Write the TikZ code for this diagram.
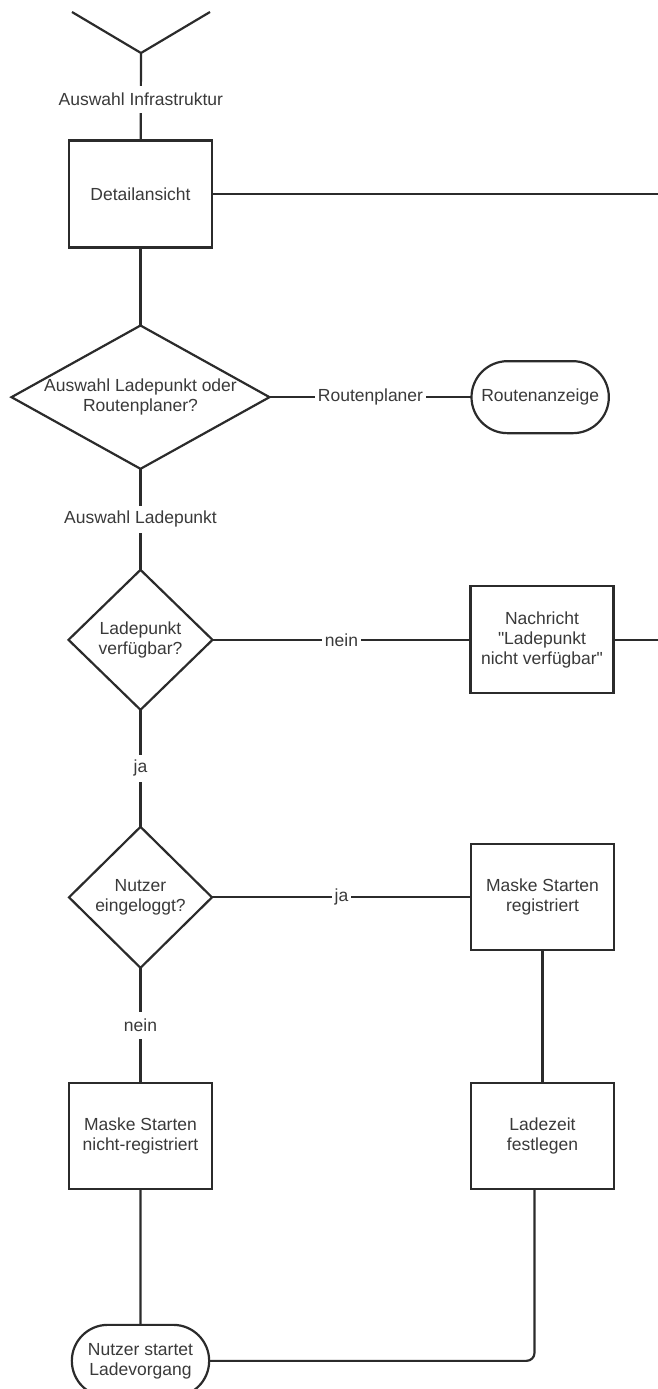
\documentclass[tikz,border=0pt]{standalone}
\usepackage{fontspec}
\setmainfont{Liberation Sans}
\usepackage{tikz}
\usetikzlibrary{shapes.geometric,shapes.misc,positioning}

\definecolor{linegray}{HTML}{2B2B2B}
\definecolor{textgray}{HTML}{3A3A3A}

\begin{document}
\begin{tikzpicture}[
    x=1pt, y=1pt,
    every node/.style={font=\fontsize{17.5}{20}\selectfont, text=textgray},
    box/.style={rectangle, draw=linegray, line width=2.2pt, fill=white, align=center, outer sep=0pt, minimum width=143pt, minimum height=107pt},
    decision/.style={diamond, draw=linegray, line width=2.2pt, fill=white, align=center, outer sep=0pt, inner sep=0pt},
    terminal/.style={rounded rectangle, draw=linegray, line width=2.2pt, fill=white, align=center, outer sep=0pt, minimum width=144pt, minimum height=72pt},
    edgelabel/.style={fill=white, inner xsep=3pt, inner ysep=0pt, minimum height=27pt},
    line/.style={draw=linegray, line width=2.2pt}
]
\useasboundingbox (0,0) rectangle (658,-1389);

% Incoming branches
\coordinate (inL) at (72,-12);
\coordinate (inR) at (210,-12);
\coordinate (merge) at (141,-53);

% Detail view
\node[box] (detail) at (140.5,-194) {Detailansicht};

% Charging point or route planner
\node[decision, aspect=1.8, minimum width=256pt, minimum height=142pt, below=78pt of detail] (choice) {Auswahl Ladepunkt oder\\Routenplaner?};

% Route display
\node[terminal, right=202pt of choice] (routes) {Routenanzeige};

% Charging point available
\node[decision, aspect=1, minimum width=144pt, minimum height=140pt, below=101pt of choice] (avail) {Ladepunkt\\verfügbar?};

% Message not available
\node[box, right=258pt of avail] (msg) {Nachricht\\\textquotedbl Ladepunkt\\nicht verfügbar\textquotedbl};

% User logged in
\node[decision, aspect=1, minimum width=143pt, minimum height=141pt, below=117pt of avail] (login) {Nutzer\\eingeloggt?};

% Registered mask
\node[box, minimum height=106pt, right=259pt of login] (reg) {Maske Starten\\registriert};

% Unregistered mask
\node[box, minimum height=106pt, below=115pt of login] (nreg) {Maske Starten\\nicht-registriert};

% Charging time
\node[box, minimum height=106pt, below=133pt of reg] (chargetime) {Ladezeit\\festlegen};

% Start charging
\node[terminal, below=136pt of nreg] (start) {Nutzer startet\\Ladevorgang};

% Exits to the right
\coordinate (exitA) at (658,-194);
\coordinate (exitB) at (msg.east -| exitA);

% Connectors
\draw[line] (inL) -- (merge) -- (inR);
\draw[line] (merge) -- node[edgelabel, pos=0.53] {Auswahl Infrastruktur} (detail);
\draw[line] (detail) -- (exitA);
\draw[line] (detail) -- (choice);
\draw[line] (choice) -- node[edgelabel] {Routenplaner} (routes);
\draw[line] (choice) -- node[edgelabel] {Auswahl Ladepunkt} (avail);
\draw[line] (avail) -- node[edgelabel] {nein} (msg);
\draw[line] (msg) -- (exitB);
\draw[line] (avail) -- node[edgelabel] {ja} (login);
\draw[line] (login) -- node[edgelabel] {ja} (reg);
\draw[line] (login) -- node[edgelabel] {nein} (nreg);
\draw[line] (reg) -- (chargetime);
\draw[line] (nreg) -- (start);
\draw[line, rounded corners=8pt] ([xshift=-8pt]chargetime.south) |- (start);

\end{tikzpicture}
\end{document}
